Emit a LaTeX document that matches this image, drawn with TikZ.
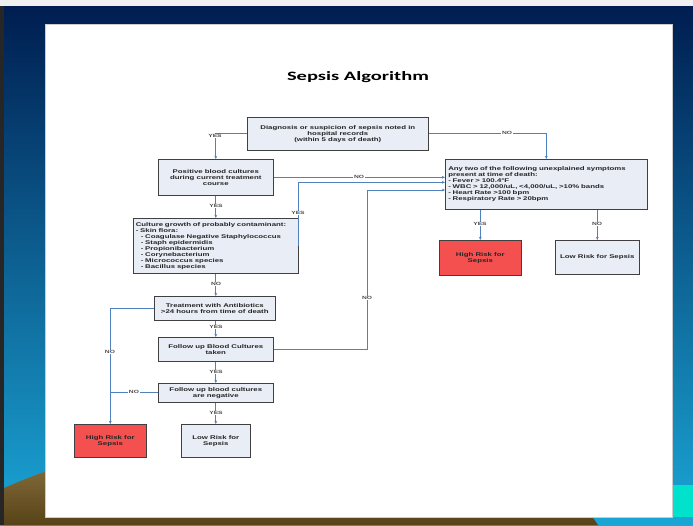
\documentclass[tikz,border=0pt]{standalone}
\usepackage{fontspec}
\setmainfont{Liberation Sans}
\newfontfamily\boxfont[FakeStretch=1.45]{Liberation Sans}
\newfontfamily\titlefont[FakeStretch=1.6]{Carlito}
\usetikzlibrary{shadows,arrows.meta,calc}
\definecolor{boxfill}{HTML}{E9EDF5}
\definecolor{connc}{HTML}{4F81BD}
\definecolor{riskred}{HTML}{F55050}
\definecolor{navytop}{HTML}{001D50}
\definecolor{navymid}{HTML}{083C84}
\definecolor{navybot}{HTML}{1AA6D6}
\definecolor{browntop}{HTML}{806838}
\definecolor{brownbot}{HTML}{574318}
\definecolor{aqua}{HTML}{00E2CC}
\tikzset{
  box/.style={draw=black!75, line width=0.6pt, fill=boxfill, inner sep=1pt,
    anchor=north west, align=center, text=black!85,
    font=\boxfont\bfseries\fontsize{5.4}{6}\selectfont,
    drop shadow={shadow xshift=1pt, shadow yshift=-1pt, fill=black!45, opacity=1}},
  redbox/.style={box, fill=riskred},
  conn/.style={draw=connc, line width=0.7pt},
  arr/.style={conn, -{Stealth[length=3.2pt,width=2.8pt]}},
  lab/.style={font=\boxfont\bfseries\fontsize{4.6}{5}\selectfont, text=black!70,
    fill=white, inner sep=0.6pt}
}
\begin{document}
\begin{tikzpicture}[x=1pt,y=-1pt]
\useasboundingbox (0,0) rectangle (693,525);
% slide background
\fill[white!94!black] (0,0) rectangle (693,6);
\shade[top color=navytop, middle color=navymid, bottom color=navybot] (0,6) rectangle (693,525);
\fill[black!85] (0,6) rectangle (4,525);
\shade[top color=browntop, bottom color=brownbot]
  (4,488) .. controls (18,482) and (32,476) .. (50,470) -- (560,470)
  -- (598,525) -- (4,525) -- cycle;
\fill[aqua] (672,485) rectangle (693,517);
% page
\fill[white] (45,24) rectangle (672,517);
\draw[black!20, line width=0.4pt] (45,24) rectangle (672,517);
% title
\node (title) at (358,77) {\titlefont\bfseries\fontsize{12.8}{14}\selectfont Sepsis Algorithm};
% boxes
\node[box, minimum width=181pt, minimum height=33pt] (diag) at (247,117)
  {Diagnosis or suspicion of sepsis noted in\\hospital records\\(within 5 days of death)};
\node[box, minimum width=115pt, minimum height=36pt] (pos) at (158,159)
  {Positive blood cultures\\during current treatment\\course};
\node[box, minimum width=165pt, minimum height=55pt, align=left, text width=160pt] (cult) at (133,218)
  {Culture growth of probably contaminant:\\
   - Skin flora:\\
   \hspace*{5pt}- Coagulase Negative Staphylococcus\\
   \hspace*{5pt}- Staph epidermidis\\
   \hspace*{5pt}- Propionibacterium\\
   \hspace*{5pt}- Corynebacterium\\
   \hspace*{5pt}- Micrococcus species\\
   \hspace*{5pt}- Bacillus species};
\node[box, minimum width=121pt, minimum height=24pt] (treat) at (154,296)
  {Treatment with Antibiotics\\>24 hours from time of death};
\node[box, minimum width=115pt, minimum height=24pt] (fol) at (158,337)
  {Follow up Blood Cultures\\taken};
\node[box, minimum width=115pt, minimum height=19pt] (neg) at (158,383)
  {Follow up blood cultures\\are negative};
\node[redbox, minimum width=72pt, minimum height=33pt] (hr1) at (74,424)
  {High Risk for\\Sepsis};
\node[box, minimum width=69pt, minimum height=33pt] (lr1) at (181,424)
  {Low Risk for\\Sepsis};
\node[box, minimum width=202pt, minimum height=50pt, align=left, text width=196pt] (any) at (445,159)
  {Any two of the following unexplained symptoms\\
   present at time of death:\\
   - Fever > 100.4°F\\
   - WBC > 12,000/uL, <4,000/uL, >10\% bands\\
   - Heart Rate >100 bpm\\
   - Respiratory Rate > 20bpm};
\node[redbox, minimum width=82pt, minimum height=35pt] (hr2) at (439,240)
  {High Risk for\\Sepsis};
\node[box, minimum width=84pt, minimum height=34pt] (lr2) at (555,240)
  {Low Risk for Sepsis};
% connectors
\draw[arr] (diag.west) -| (pos.north);
\draw[arr] (diag.east) -| (any.north);
\draw[arr] (pos.east) -- (pos.east -| any.west);
\draw[arr] (cult.east) |- ([yshift=2pt]any.west);
\coordinate (k3) at (367,190);
\draw[arr] (fol.east) -| (k3) -- (k3 -| any.west);
\draw[arr] (hr2.north |- any.south) -- (hr2.north);
\draw[arr] (lr2.north |- any.south) -- (lr2.north);
\draw[arr] (pos.south) -- (cult.north -| pos.south);
\draw[arr] (cult.south -| pos.south) -- (treat.north -| pos.south);
\draw[arr] (treat.south -| pos.south) -- (fol.north -| pos.south);
\draw[arr] (fol.south -| pos.south) -- (neg.north -| pos.south);
\draw[arr] (neg.south -| pos.south) -- (lr1.north -| pos.south);
\draw[arr] (treat.west) -| (hr1.north);
\draw[conn] (neg.west) -- (neg.west -| hr1.north);
% labels
\node[lab] (l1) at (215,136) {YES};
\node[lab] (l2) at (507,133) {NO};
\node[lab] (l3) at (359,177) {NO};
\node[lab] (l4) at (298,213) {YES};
\node[lab] (l5) at (367,298) {NO};
\node[lab] (l6) at (480,224) {YES};
\node[lab] (l7) at (597,224) {NO};
\node[lab] (l8) at (216,206) {YES};
\node[lab] (l9) at (216,284) {NO};
\node[lab] (l10) at (216,327) {YES};
\node[lab] (l11) at (216,372) {YES};
\node[lab] (l12) at (216,413) {YES};
\node[lab] (l13) at (110,352) {NO};
\node[lab] (l14) at (134,392) {NO};
\end{tikzpicture}
\end{document}
